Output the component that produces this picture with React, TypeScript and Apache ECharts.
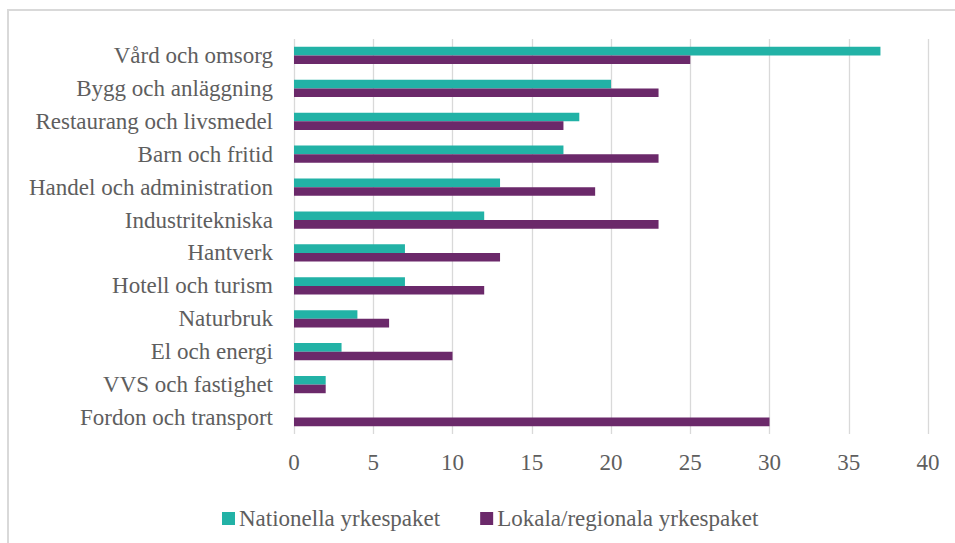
import React, { useEffect, useRef } from "react";
import * as echarts from "echarts";

const categories = [
  "Vård och omsorg",
  "Bygg och anläggning",
  "Restaurang och livsmedel",
  "Barn och fritid",
  "Handel och administration",
  "Industritekniska",
  "Hantverk",
  "Hotell och turism",
  "Naturbruk",
  "El och energi",
  "VVS och fastighet",
  "Fordon och transport",
];
const nationella = [37, 20, 18, 17, 13, 12, 7, 7, 4, 3, 2, 0];
const lokala = [25, 23, 17, 23, 19, 23, 13, 12, 6, 10, 2, 30];
const seriesNames = ["Nationella yrkespaket", "Lokala/regionala yrkespaket"];
const colors = ["#22B2A6", "#6B296A"];

const FONT = "Liberation Serif";
const TEXT = "#5e5e5e";

export default function App() {
  const ref = useRef<HTMLDivElement>(null);
  useEffect(() => {
    if (!ref.current) return;
    const chart = echarts.init(ref.current, null, { renderer: "svg" });
    chart.setOption({
      animation: false,
      backgroundColor: "#ffffff",
      textStyle: { fontFamily: FONT },
      graphic: [
        {
          type: "rect",
          shape: { x: 8, y: 10, width: 1000, height: 600 },
          style: { fill: "none", stroke: "#d9d9d9", lineWidth: 2 },
          silent: true,
        },
      ],
      grid: { left: 294, right: 27, top: 39, height: 395, containLabel: false },
      legend: {
        left: 217,
        top: 502,
        itemWidth: 13,
        itemHeight: 13,
        itemGap: 40,
        icon: "rect",
        textStyle: { fontFamily: FONT, fontSize: 23, color: TEXT, padding: [0, 0, 0, -1] },
        data: seriesNames,
      },
      xAxis: {
        type: "value",
        min: 0,
        max: 40,
        interval: 5,
        axisLine: { show: false },
        axisTick: { show: false },
        splitLine: { show: true, lineStyle: { color: "#d9d9d9", width: 1.3 } },
        axisLabel: { fontFamily: FONT, fontSize: 23, color: TEXT, margin: 17 },
      },
      yAxis: {
        type: "category",
        data: categories,
        inverse: true,
        axisLine: { show: false },
        axisTick: { show: false },
        axisLabel: { fontFamily: FONT, fontSize: 23, color: TEXT, margin: 21 },
      },
      series: [
        {
          name: seriesNames[0],
          type: "bar",
          data: nationella,
          barWidth: 8.6,
          barGap: "0%",
          itemStyle: { color: colors[0] },
        },
        {
          name: seriesNames[1],
          type: "bar",
          data: lokala,
          barWidth: 8.6,
          barGap: "0%",
          itemStyle: { color: colors[1] },
        },
      ],
    });
    return () => chart.dispose();
  }, []);
  return (
    <div
      ref={ref}
      style={{ position: "absolute", left: 0, top: 0, width: 955, height: 543 }}
    />
  );
}
